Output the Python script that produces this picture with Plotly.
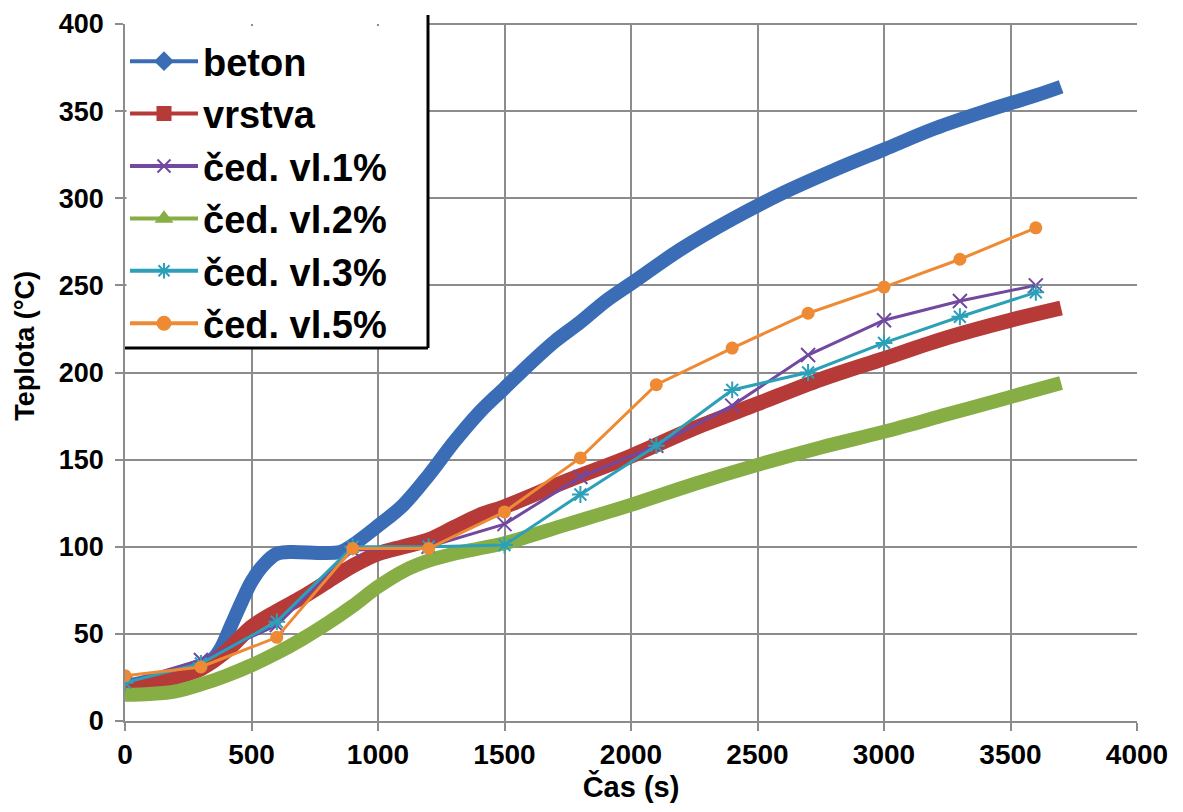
import plotly.graph_objects as go

# ---- data ----
beton_t = [0, 100, 200, 300, 350, 380, 420, 460, 500, 550, 600, 650, 850, 900, 1000, 1100, 1200,
           1300, 1400, 1500, 1600, 1700, 1800, 1900, 2000, 2200, 2400, 2600, 2800, 3000, 3200,
           3400, 3600, 3700]
beton_T = [20, 23, 27, 32, 36, 42, 55, 68, 80, 90, 96, 97, 97, 101, 112, 124, 141,
           160, 177, 191, 205, 218, 229, 241, 251, 271, 288, 303, 316, 328, 340,
           350, 359, 364]

vrstva_t = [0, 100, 200, 300, 400, 500, 600, 700, 800, 900, 1000, 1100, 1200, 1300, 1400, 1500,
            1750, 2000, 2250, 2500, 2750, 3000, 3250, 3500, 3700]
vrstva_T = [19, 21, 25, 30, 40, 54, 63, 71, 80, 89, 96, 100, 104, 111, 118, 123,
            138, 152, 168, 182, 196, 208, 220, 230, 237]

ced2_t = [0, 100, 200, 300, 400, 500, 600, 700, 800, 900, 1000, 1100, 1200, 1300, 1400, 1500,
          1750, 2000, 2250, 2500, 2750, 3000, 3250, 3500, 3700]
ced2_T = [15, 15.5, 17, 21, 26, 32, 39, 47, 56, 66, 77, 86, 92, 96, 99, 102,
          113, 124, 136, 147, 157, 166, 176, 186, 194]

pts_t = [0, 300, 600, 900, 1200, 1500, 1800, 2100, 2400, 2700, 3000, 3300, 3600]
ced1_T = [22, 35, 55, 98, 100, 113, 140, 158, 181, 210, 230, 241, 250]
ced3_T = [22, 33, 57, 100, 100, 101, 130, 158, 190, 200, 217, 232, 246]
ced5_T = [26, 31, 48, 99, 99, 120, 151, 193, 214, 234, 249, 265, 283]

names = ["beton", "vrstva", "čed. vl.1%", "čed. vl.2%", "čed. vl.3%", "čed. vl.5%"]
colors = ["#3A6DB5", "#B53A38", "#7248A0", "#86AE45", "#2BA0B8", "#EE8A33"]
symbols = ["diamond", "square", "x-thin-open", "triangle-up", "asterisk-open", "circle"]

x_ticks = list(range(0, 4001, 500))
y_ticks = list(range(0, 401, 50))

FONT = "Liberation Sans, Arial, sans-serif"

fig = go.Figure()

# thick dense-marker series drawn as thick bands
fig.add_trace(go.Scatter(x=beton_t, y=beton_T, mode="lines", line=dict(color=colors[0], width=14, shape="spline"),
                         showlegend=False))
fig.add_trace(go.Scatter(x=vrstva_t, y=vrstva_T, mode="lines", line=dict(color=colors[1], width=15, shape="spline"),
                         showlegend=False))
fig.add_trace(go.Scatter(x=pts_t, y=ced1_T, mode="lines+markers", line=dict(color=colors[2], width=3),
                         marker=dict(symbol=symbols[2], size=14, line=dict(color=colors[2], width=2)),
                         showlegend=False))
fig.add_trace(go.Scatter(x=ced2_t, y=ced2_T, mode="lines", line=dict(color=colors[3], width=14, shape="spline"),
                         showlegend=False))
fig.add_trace(go.Scatter(x=pts_t, y=ced3_T, mode="lines+markers", line=dict(color=colors[4], width=3),
                         marker=dict(symbol=symbols[4], size=14, line=dict(color=colors[4], width=2)),
                         showlegend=False))
fig.add_trace(go.Scatter(x=pts_t, y=ced5_T, mode="lines+markers", line=dict(color=colors[5], width=3),
                         marker=dict(symbol=symbols[5], size=13, color=colors[5]),
                         showlegend=False))

# legend entries
for n, c, s in zip(names, colors, symbols):
    mk = dict(symbol=s, size=13, color=c, line=dict(color=c, width=2))
    fig.add_trace(go.Scatter(x=[None], y=[None], mode="lines+markers", name=n,
                             line=dict(color=c, width=4), marker=mk))

grid = "#8C8C8C"
# legend box: white panel with black right/bottom edges
box_x1 = 0.2994
box_y0 = 0.5351
box_ytop = 1.0129
shapes = [
    dict(type="rect", xref="paper", yref="paper", x0=0.0015, x1=box_x1, y0=box_y0, y1=0.997,
         fillcolor="white", line=dict(width=0), layer="above"),
    # top gridline (400) to the right of the legend box
    dict(type="line", xref="paper", yref="paper", x0=box_x1, x1=1, y0=1, y1=1,
         line=dict(color=grid, width=2), layer="above"),
    dict(type="line", xref="paper", yref="paper", x0=box_x1, x1=box_x1, y0=box_y0, y1=box_ytop,
         line=dict(color="black", width=3), layer="above"),
    dict(type="line", xref="paper", yref="paper", x0=0.0, x1=box_x1, y0=box_y0, y1=box_y0,
         line=dict(color="black", width=3), layer="above"),
]

fig.update_layout(
    width=1175, height=804,
    margin=dict(l=117, r=46, t=16, b=91),
    paper_bgcolor="white", plot_bgcolor="white",
    font=dict(family=FONT, color="black"),
    showlegend=True,
    legend=dict(x=0.0, y=0.9914, xanchor="left", yanchor="top",
                bgcolor="rgba(0,0,0,0)", borderwidth=0,
                font=dict(family=FONT, size=38, weight=700, color="black"),
                itemwidth=68, tracegroupgap=0),
    shapes=shapes,
    xaxis=dict(range=[0, 4000], tickvals=x_ticks, ticktext=[str(v) for v in x_ticks],
               showgrid=True, gridcolor=grid, gridwidth=1.5,
               showline=True, linecolor=grid, linewidth=1.5,
               ticks="outside", ticklen=8, tickcolor=grid, tickwidth=1.5,
               tickfont=dict(family=FONT, size=28, weight=700, color="black"),
               ticklabeloverflow="allow",
               zeroline=False, automargin=False,
               title=dict(text="Čas (s)", font=dict(family=FONT, size=29, weight=700, color="black"),
                          standoff=6)),
    yaxis=dict(range=[0, 400], tickvals=y_ticks, ticktext=[str(v) for v in y_ticks],
               showgrid=True, gridcolor=grid, gridwidth=1.5,
               showline=True, linecolor=grid, linewidth=1.5,
               ticks="outside", ticklen=8, tickcolor=grid, tickwidth=1.5,
               ticklabelstandoff=6, ticklabeloverflow="allow",
               tickfont=dict(family=FONT, size=27, weight=700, color="black"),
               zeroline=False, automargin=False),
    annotations=[dict(text="Teplota (°C)", xref="paper", yref="paper", x=-0.099, y=0.538,
                      xanchor="center", yanchor="middle", textangle=-90, showarrow=False,
                      font=dict(family=FONT, size=27, weight=700, color="black"))],
)

fig.write_html("out.html")
